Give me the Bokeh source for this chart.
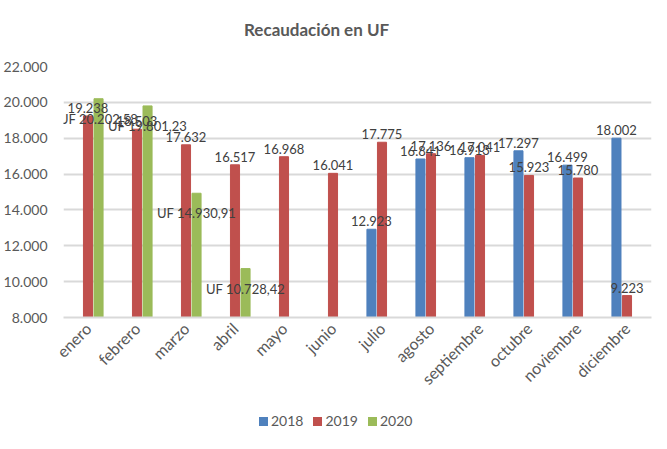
from bokeh.plotting import figure
from bokeh.models import ColumnDataSource, FactorRange, FixedTicker, Div
from bokeh.layouts import column
from bokeh.transform import dodge
from bokeh.embed import file_html
from bokeh.resources import INLINE
from bokeh.core.properties import value

months = ["enero", "febrero", "marzo", "abril", "mayo", "junio", "julio",
          "agosto", "septiembre", "octubre", "noviembre", "diciembre"]
v2018 = [None, None, None, None, None, None, 12923, 16841, 16913, 17297, 16499, 18002]
v2019 = [19238, 18503, 17632, 16517, 16968, 16041, 17775, 17136, 17041, 15923, 15780, 9223]
v2020 = [20202.58, 19801.23, 14930.91, 10728.42, None, None, None, None, None, None, None, None]
y_ticks = [8000, 10000, 12000, 14000, 16000, 18000, 20000, 22000]
y_tick_labels = ["8.000", "10.000", "12.000", "14.000", "16.000", "18.000", "20.000", "22.000"]
series_names = ["2018", "2019", "2020"]
colors = ["#4F81BD", "#C0504D", "#9BBB59"]
title_text = "Recaudación en UF"

FONT = "Lato"
GRAY = "#595959"


def fmt_thousands(v):
    return f"{int(round(v)):,}".replace(",", ".")


def fmt_uf(v):
    s = f"{v:,.2f}"
    s = s.replace(",", "X").replace(".", ",").replace("X", ".")
    return "UF " + s


def make_source(vals, fmt):
    xs, ys, labels = [], [], []
    for m, v in zip(months, vals):
        if v is not None:
            xs.append(m)
            ys.append(v)
            labels.append(fmt(v))
    return ColumnDataSource(dict(x=xs, top=ys, label=labels))


s18 = make_source(v2018, fmt_thousands)
s19 = make_source(v2019, fmt_thousands)
s20 = make_source(v2020, fmt_uf)

title_div = Div(
    text=(f'<div style="font-family:Lato;font-size:17px;font-weight:bold;color:{GRAY};'
          f'line-height:20px;padding-top:15px;padding-left:239px;white-space:nowrap;">'
          f'{title_text}</div>'),
    width=651, height=40)

p = figure(frame_width=588, frame_height=251, x_range=FactorRange(factors=months),
           y_range=(8000, 22000), output_backend="svg", toolbar_location=None,
           min_border_left=54, min_border_right=9, min_border_top=16,
           min_border_bottom=80)

off = 0.215
w = 0.185
for src, o, c in zip([s18, s19, s20], [-off, 0, off], colors):
    p.vbar(x=dodge("x", o, range=p.x_range), top="top", bottom=8000, width=w,
           source=src, fill_color=c, line_color=c)

# data labels
for src, o in zip([s18, s19], [-off, 0]):
    p.text(x=dodge("x", o, range=p.x_range), y="top", text="label", source=src,
           text_align="center", text_baseline="bottom", y_offset=-3,
           text_font=value(FONT), text_font_size="13px", text_color="#404040")
p.text(x=dodge("x", off, range=p.x_range), y="top", text="label", source=s20,
       text_align="center", text_baseline="middle", y_offset=20,
       text_font=value(FONT), text_font_size="13px", text_color="#404040")

p.yaxis.ticker = FixedTicker(ticks=y_ticks)
p.yaxis.major_label_overrides = {t: l for t, l in zip(y_ticks, y_tick_labels)}
p.yaxis.axis_line_color = None
p.yaxis.major_tick_line_color = None
p.yaxis.minor_tick_line_color = None
p.yaxis.major_label_text_font = FONT
p.yaxis.major_label_text_font_size = "14px"
p.yaxis.major_label_text_color = GRAY
p.yaxis.major_label_standoff = 10

p.xaxis.axis_line_color = "#D9D9D9"
p.xaxis.axis_line_width = 2
p.xaxis.major_tick_line_color = None
p.xaxis.minor_tick_line_color = None
p.xaxis.major_label_orientation = 0.785
p.xaxis.major_label_text_font = FONT
p.xaxis.major_label_text_font_size = "16px"
p.xaxis.major_label_text_color = GRAY
p.xaxis.major_label_standoff = 2

p.xgrid.grid_line_color = None
p.ygrid.grid_line_color = "#D9D9D9"
p.ygrid.grid_line_width = 2
p.outline_line_color = None

items_html = "".join(
    f'<span style="display:inline-block;width:9px;height:9px;background:{c};'
    f'margin-right:3px;vertical-align:middle;"></span>'
    f'<span style="margin-right:10px;vertical-align:middle;">{n}</span>'
    for n, c in zip(series_names, colors))
legend_div = Div(
    text=(f'<div style="font-family:Lato;font-size:14px;color:{GRAY};line-height:18px;'
          f'padding-top:9px;padding-left:254px;white-space:nowrap;">{items_html}</div>'),
    width=651, height=44)

layout = column(title_div, p, legend_div, spacing=0)
open("out.html", "w").write(file_html(layout, INLINE))
